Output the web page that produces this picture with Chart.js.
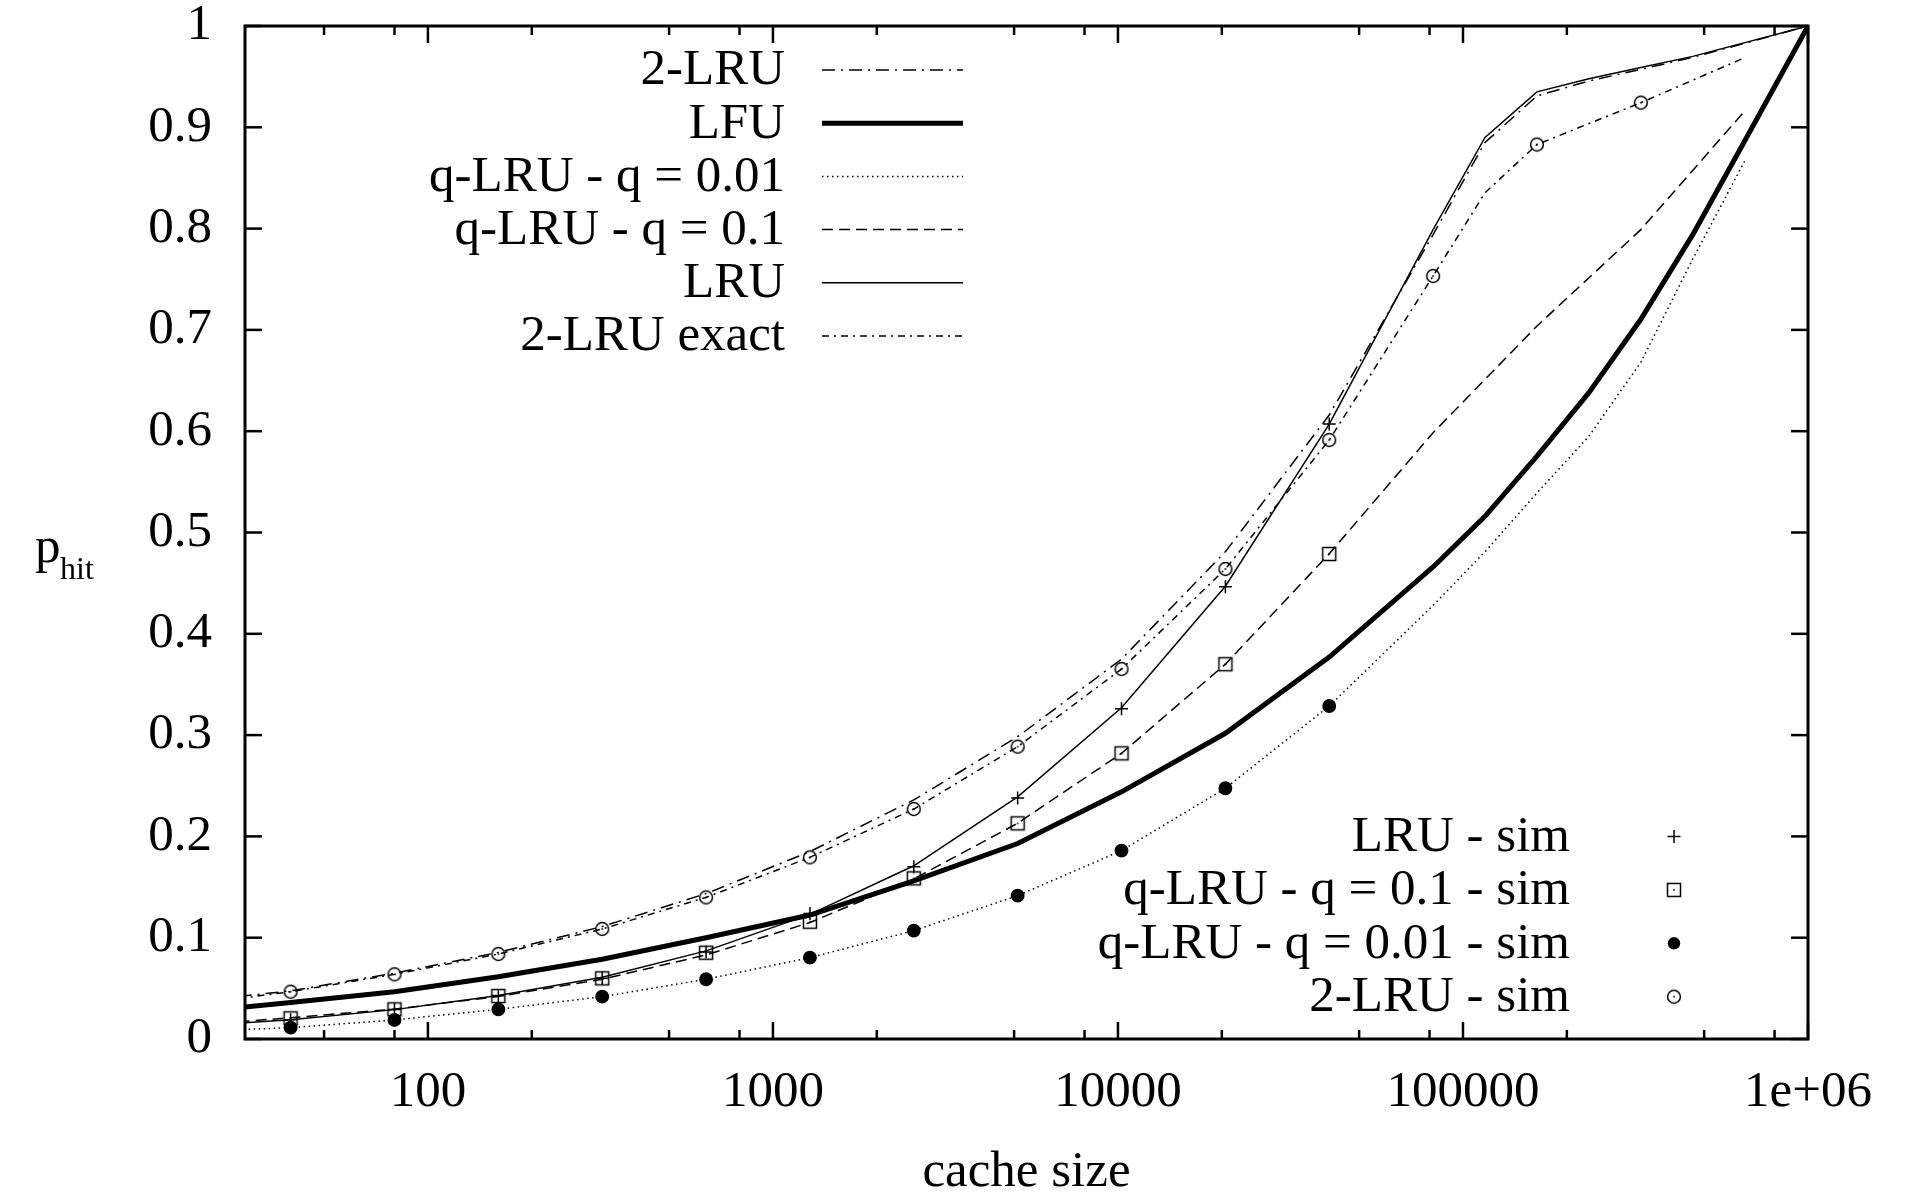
<!DOCTYPE html>
<html><head><meta charset="utf-8">
<script src="https://cdn.jsdelivr.net/npm/chart.js@4.4.1/dist/chart.umd.min.js"></script>
<style>html,body{margin:0;padding:0;background:#fff;}canvas{display:block;}</style>
</head><body>
<canvas id="c" width="1906" height="1197"></canvas>
<script>
// ---------- data ----------
const simX = [40,80,160,320,640,1280,2560,5120,10240,20480,40960,81920,163840,327680];
const lruSim   = [0.019,0.029,0.043,0.060,0.086,0.124,0.170,0.238,0.326,0.4465,0.607];
const q01Sim   = [0.0204,0.0293,0.0424,0.0599,0.0852,0.1158,0.1586,0.2129,0.282,0.370,0.4788];
const q001Sim  = [0.0112,0.0188,0.0293,0.0418,0.059,0.0803,0.107,0.1415,0.186,0.2475,0.3287];
const twoLruSim = [0.0467,0.0638,0.0839,0.1086,0.1398,0.1793,0.227,0.2886,0.3652,0.464,0.5913,0.7532,0.883,0.9243];

const xLruLines = [28.28,40,80,160,320,640,1280,2560,5120,10240,20480,40960,81920,115852,163840,231705,327680,463410,1000000];
const lruLine    = [0.0155,0.019,0.029,0.043,0.061,0.087,0.123,0.171,0.239,0.327,0.447,0.607,0.799,0.890,0.935,0.948,0.959,0.970,1.0];
const twoLruLine = [0.042,0.0475,0.065,0.0855,0.111,0.1435,0.185,0.236,0.2984,0.375,0.481,0.616,0.794,0.885,0.931,0.9457,0.9572,0.969,1.0];

const xExact = [28.28,40,80,160,320,640,1280,2560,5120,10240,20480,40960,81920,115852,163840,327680,655360];
const twoLruExact = [0.040,0.0467,0.0638,0.0839,0.1086,0.1398,0.1793,0.227,0.2886,0.3652,0.464,0.5913,0.7532,0.8354,0.883,0.9243,0.9687];

const xQ01 = [28.28,40,80,160,320,640,1280,2560,5120,10240,20480,40960,81920,163840,327680,655360];
const q01Line = [0.017,0.021,0.0295,0.042,0.059,0.083,0.115,0.158,0.213,0.282,0.370,0.479,0.5985,0.7038,0.799,0.916];

const xLfu = [28.28,40,80,160,320,640,1280,2560,5120,10240,20480,40960,81920,115852,163840,231705,327680,463410,655360,1000000];
const lfuLine = [0.031,0.036,0.0467,0.0615,0.0787,0.100,0.1224,0.156,0.193,0.244,0.3018,0.377,0.466,0.516,0.5755,0.638,0.7105,0.794,0.8865,1.0];

const xQ001 = [28.28,40,80,160,320,640,1280,2560,5120,10240,20480,40960,81920,115852,163840,231705,327680,463410,655360];
const q001Line = [0.0092,0.0112,0.0188,0.0293,0.0418,0.059,0.0803,0.107,0.1415,0.186,0.2475,0.3287,0.428,0.481,0.539,0.595,0.668,0.770,0.8667];

const xTickVals = [100,1000,10000,100000,1000000];
const xTickLabels = ['100','1000','10000','100000','1e+06'];
const xMinorVals = [50,80,200,500,800,2000,5000,8000,20000,50000,80000,200000,500000,800000];
const yTickVals = [0,0.1,0.2,0.3,0.4,0.5,0.6,0.7,0.8,0.9,1];
const yTickLabels = ['0','0.1','0.2','0.3','0.4','0.5','0.6','0.7','0.8','0.9','1'];

// ---------- helpers ----------
const pts = (xs, ys) => ys.map((v, i) => ({x: xs[i], y: v}));
const FONT = '"Liberation Serif", "Times New Roman", serif';

function marker(kind) {
  const c = document.createElement('canvas');
  c.width = 18; c.height = 18;
  const g = c.getContext('2d');
  g.strokeStyle = '#000'; g.lineWidth = 1.5; g.fillStyle = '#000';
  if (kind === 'box') g.strokeRect(2.5, 2.5, 13, 13);
  else { g.beginPath(); g.arc(9, 9, 6.4, 0, Math.PI * 2); g.stroke(); }
  g.fillRect(8.2, 8.2, 1.6, 1.6);
  return c;
}
const boxDot = marker('box');
const circDot = marker('circ');

const lineDs = (label, xs, ys, width, dash, legendRow) => ({
  label, data: pts(xs, ys), showLine: true, borderColor: '#000', borderWidth: width,
  borderDash: dash, pointRadius: 0, pointHoverRadius: 0, tension: 0, clip: 0,
  legendKind: 'line', legendRow, fill: false
});
const simDs = (label, xs, ys, style, radius, filled, legendRow) => ({
  label, data: pts(xs, ys), showLine: false, borderColor: '#000', borderWidth: 1.5,
  backgroundColor: filled ? '#000' : 'rgba(0,0,0,0)', pointStyle: style, pointRadius: radius,
  pointHoverRadius: radius, legendKind: 'point', legendRow
});

const datasets = [
  lineDs('2-LRU', xLruLines, twoLruLine, 1.5, [13, 6, 2, 6], 0),
  lineDs('LFU', xLfu, lfuLine, 5, [], 1),
  lineDs('q-LRU - q = 0.01', xQ001, q001Line, 1.5, [1.5, 3.5], 2),
  lineDs('q-LRU - q = 0.1', xQ01, q01Line, 1.5, [11, 6], 3),
  lineDs('LRU', xLruLines, lruLine, 1.5, [], 4),
  lineDs('2-LRU exact', xExact, twoLruExact, 1.5, [7, 5, 2, 5], 5),
  simDs('LRU - sim', simX, lruSim, 'cross', 6.5, false, 0),
  simDs('q-LRU - q = 0.1 - sim', simX, q01Sim, boxDot, 7, false, 1),
  simDs('q-LRU - q = 0.01 - sim', simX, q001Sim, 'circle', 6.2, true, 2),
  simDs('2-LRU - sim', simX, twoLruSim, circDot, 7, false, 3)
];

// ---------- gnuplot-like decorations ----------
const decor = {
  id: 'decor',
  afterDatasetsDraw(chart) {
    const {ctx, chartArea: a, scales: {x, y}} = chart;
    ctx.save();
    ctx.strokeStyle = '#000'; ctx.fillStyle = '#000'; ctx.lineCap = 'butt'; ctx.setLineDash([]);
    const seg = (x1, y1, x2, y2) => { ctx.beginPath(); ctx.moveTo(x1, y1); ctx.lineTo(x2, y2); ctx.stroke(); };
    ctx.lineWidth = 2.5;
    yTickVals.forEach(v => { const py = y.getPixelForValue(v); seg(a.left, py, a.left + 17, py); seg(a.right, py, a.right - 17, py); });
    xTickVals.forEach(v => { const px = x.getPixelForValue(v); seg(px, a.bottom, px, a.bottom - 17); seg(px, a.top, px, a.top + 17); });
    xMinorVals.forEach(v => { const px = x.getPixelForValue(v); seg(px, a.bottom, px, a.bottom - 9); seg(px, a.top, px, a.top + 9); });
    ctx.lineWidth = 3;
    ctx.strokeRect(a.left, a.top, a.right - a.left, a.bottom - a.top);

    // y axis title p_hit
    ctx.textBaseline = 'alphabetic'; ctx.textAlign = 'left';
    ctx.font = '51px ' + FONT;
    ctx.fillText('p', 35, 562);
    ctx.font = '32px ' + FONT;
    ctx.fillText('hit', 60, 579);

    // legends
    ctx.font = '51px ' + FONT;
    ctx.textBaseline = 'middle';
    chart.data.datasets.forEach(ds => {
      if (ds.legendKind === 'line') {
        const ry = 70 + ds.legendRow * 53.2;
        ctx.textAlign = 'right';
        ctx.fillText(ds.label, 785, ry + 1);
        ctx.lineWidth = ds.borderWidth; ctx.setLineDash(ds.borderDash);
        seg(822, ry, 963, ry);
        ctx.setLineDash([]);
      } else {
        const ry = 836.5 + ds.legendRow * 53.4;
        ctx.textAlign = 'right';
        ctx.fillText(ds.label, 1570, ry + 1);
        const mx = 1674;
        if (ds.pointStyle === 'cross') {
          ctx.lineWidth = 1.5; seg(mx - 6.5, ry, mx + 6.5, ry); seg(mx, ry - 6.5, mx, ry + 6.5);
        } else if (ds.pointStyle === 'circle') {
          ctx.beginPath(); ctx.arc(mx, ry, 6.2, 0, Math.PI * 2); ctx.fill();
        } else {
          ctx.drawImage(ds.pointStyle, mx - 9, ry - 9);
        }
      }
    });
    ctx.restore();
  }
};

const noPad = s => { s.paddingTop = 0; s.paddingBottom = 0; s.paddingLeft = 0; s.paddingRight = 0; };

new Chart(document.getElementById('c'), {
  type: 'scatter',
  data: {datasets},
  options: {
    responsive: false, animation: false, devicePixelRatio: 1,
    layout: {padding: {top: 26, right: 98, bottom: 0, left: 0}},
    plugins: {legend: {display: false}, tooltip: {enabled: false}, title: {display: false}},
    scales: {
      x: {
        type: 'logarithmic', min: 29.5, max: 1000000, position: 'bottom',
        grid: {display: false, drawTicks: false}, border: {display: false},
        afterBuildTicks: s => { s.ticks = xTickVals.map(v => ({value: v})); },
        afterFit: s => { s.height = 158; noPad(s); },
        ticks: {
          autoSkip: false, maxRotation: 0, minRotation: 0, padding: 28, color: '#000',
          font: {family: FONT, size: 51, lineHeight: 1},
          callback: (v) => { const i = xTickVals.indexOf(v); return i >= 0 ? xTickLabels[i] : ''; }
        },
        title: {display: true, text: 'cache size', color: '#000', padding: {top: 0, bottom: 0},
          font: {family: FONT, size: 51, lineHeight: 0.94}}
      },
      y: {
        type: 'linear', min: 0, max: 1, position: 'left',
        grid: {display: false, drawTicks: false}, border: {display: false},
        afterBuildTicks: s => { s.ticks = yTickVals.map(v => ({value: v})); },
        afterFit: s => { s.width = 245; noPad(s); },
        ticks: {
          autoSkip: false, padding: 33, color: '#000',
          font: {family: FONT, size: 51, lineHeight: 1},
          callback: (v) => { const i = yTickVals.findIndex(t => Math.abs(t - v) < 1e-9); return i >= 0 ? yTickLabels[i] : ''; }
        }
      }
    }
  },
  plugins: [decor]
});
</script>
</body></html>
